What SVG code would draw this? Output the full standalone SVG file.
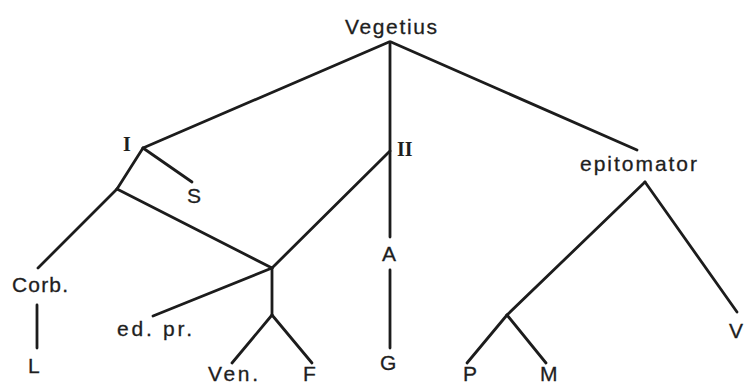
<svg xmlns="http://www.w3.org/2000/svg" width="745" height="385" viewBox="0 0 745 385">
<style>
.bg{fill:#ffffff}
.ln{stroke:#1c1c1c;stroke-width:2.8;stroke-linecap:round;fill:none}
.s{font-family:"Liberation Sans",Arial,sans-serif;font-size:21px;fill:#1e1e1e;stroke:#1e1e1e;stroke-width:0.3}
.r{font-family:"Liberation Serif","Times New Roman",serif;font-size:20px;font-weight:bold;fill:#1e1e1e}
</style>
<rect class="bg" x="0" y="0" width="745" height="385"/>
<g id="connectors">
<line class="ln" x1="389" y1="42" x2="143" y2="148"/>
<line class="ln" x1="390" y1="42" x2="390" y2="237"/>
<line class="ln" x1="391" y1="42" x2="637" y2="150"/>
<line class="ln" x1="143" y1="148" x2="192" y2="182"/>
<line class="ln" x1="143" y1="148" x2="117" y2="189"/>
<line class="ln" x1="117" y1="189" x2="38" y2="268"/>
<line class="ln" x1="117" y1="189" x2="272" y2="268"/>
<line class="ln" x1="390" y1="151" x2="272" y2="268"/>
<line class="ln" x1="272" y1="268" x2="153" y2="316"/>
<line class="ln" x1="272" y1="268" x2="272" y2="315"/>
<line class="ln" x1="272" y1="315" x2="232" y2="363"/>
<line class="ln" x1="272" y1="315" x2="312" y2="363"/>
<line class="ln" x1="37" y1="305" x2="37" y2="348"/>
<line class="ln" x1="390" y1="270" x2="390" y2="348"/>
<line class="ln" x1="645" y1="182" x2="507" y2="315"/>
<line class="ln" x1="507" y1="315" x2="467" y2="363"/>
<line class="ln" x1="507" y1="315" x2="546" y2="363"/>
<line class="ln" x1="645" y1="182" x2="737" y2="312"/>
</g>
<g id="node-vegetius"><text class="s" x="345" y="34" textLength="92" lengthAdjust="spacing">Vegetius</text></g>
<g id="node-I"><text class="r" x="123" y="151">I</text></g>
<g id="node-II"><text class="r" x="397" y="156">II</text></g>
<g id="node-S"><text class="s" x="187" y="203">S</text></g>
<g id="node-epitomator"><text class="s" x="580" y="171" textLength="117" lengthAdjust="spacing">epitomator</text></g>
<g id="node-A"><text class="s" x="382" y="261">A</text></g>
<g id="node-Corb"><text class="s" x="12" y="292" textLength="56" lengthAdjust="spacing">Corb.</text></g>
<g id="node-edpr"><text class="s" x="117" y="336" textLength="75" lengthAdjust="spacing">ed. pr.</text></g>
<g id="node-L"><text class="s" x="28" y="373">L</text></g>
<g id="node-G"><text class="s" x="380" y="370">G</text></g>
<g id="node-Ven"><text class="s" x="208" y="381" textLength="50" lengthAdjust="spacing">Ven.</text></g>
<g id="node-F"><text class="s" x="303" y="381">F</text></g>
<g id="node-P"><text class="s" x="463" y="381">P</text></g>
<g id="node-M"><text class="s" x="540" y="381">M</text></g>
<g id="node-V"><text class="s" x="729" y="338">V</text></g>
</svg>
